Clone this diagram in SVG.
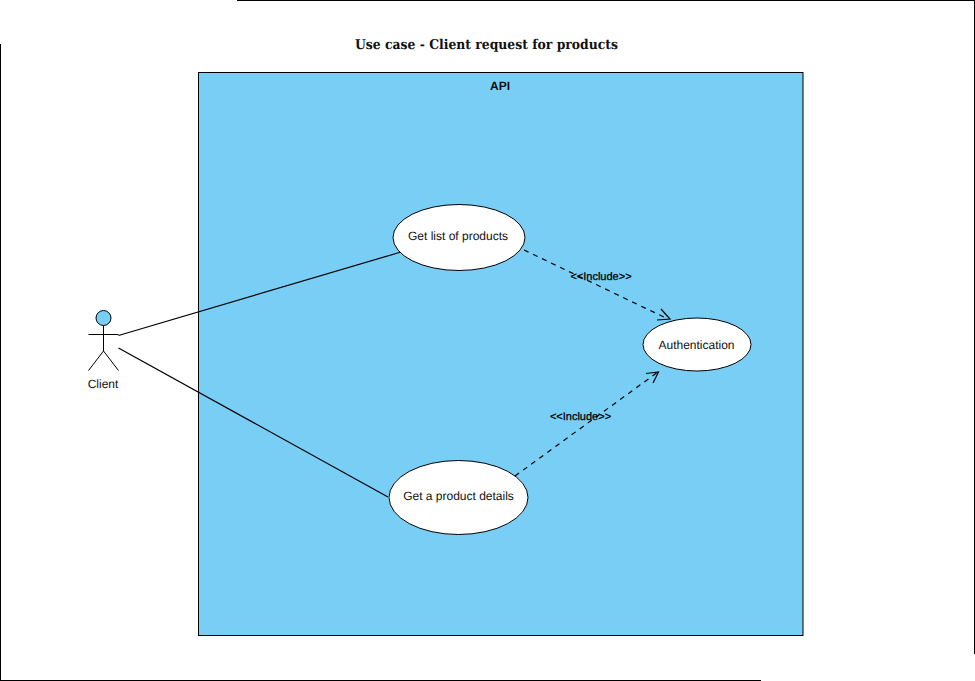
<svg xmlns="http://www.w3.org/2000/svg" width="975" height="681" viewBox="0 0 975 681">
<style>
.l{fill:none;stroke:#000;stroke-width:1}
.c{stroke-width:1.200}
.d{stroke-dasharray:5 5}
.n{fill:#fff;stroke:#000;stroke-width:1}
text{font-family:"Liberation Sans",Arial,sans-serif;font-size:12px;fill:#111;text-anchor:middle;text-rendering:geometricPrecision}
.i{font-size:11px;fill:#000;stroke:#000;stroke-width:.25}
</style>
<rect width="975" height="681" fill="#fff"/>
<g id="frame" class="l">
<path d="M237 .5H975M.5 44V681M974.5 0V654M0 680.5H761"/>
</g>
<text id="title" x="486.500" y="49" style="font-family:'DejaVu Serif',serif;font-size:13.500px;font-weight:700" textLength="263" lengthAdjust="spacingAndGlyphs">Use case - Client request for products</text>
<g id="api">
<rect x="198.500" y="72.500" width="604.500" height="563" fill="#79cef5" stroke="#000"/>
<text x="500" y="90" font-weight="700">API</text>
</g>
<g id="connectors">
<path class="l c" d="M118.500 335.500L401 252"/>
<path class="l c" d="M118.500 348L388 497"/>
<path class="l c d" d="M524 250L668 319"/>
<path class="l c" d="M661 309L670 319L657 320"/>
<path class="l c d" d="M515 476L658 372"/>
<path class="l c" d="M646 373.500L658.500 372L653 383"/>
<text class="i" x="601" y="280">&lt;&lt;Include&gt;&gt;</text>
<text class="i" x="580.500" y="420">&lt;&lt;Include&gt;&gt;</text>
</g>
<g id="client">
<circle cx="103.500" cy="318" r="7.500" fill="#79cef5" stroke="#000"/>
<path class="l" d="M103.500 325.500V351M88.500 334.500H118.500M103.500 351L88.500 370.500M103.500 351L118.500 370.500"/>
<text x="103" y="388">Client</text>
</g>
<g id="get-list">
<ellipse class="n" cx="459" cy="237.500" rx="66" ry="33"/>
<text x="458" y="240">Get list of products</text>
</g>
<g id="authentication">
<ellipse class="n" cx="697" cy="344.500" rx="54" ry="26.500"/>
<text x="696.500" y="349">Authentication</text>
</g>
<g id="get-details">
<ellipse class="n" cx="458.500" cy="497.500" rx="69.500" ry="37"/>
<text x="458.500" y="500">Get a product details</text>
</g>
</svg>
